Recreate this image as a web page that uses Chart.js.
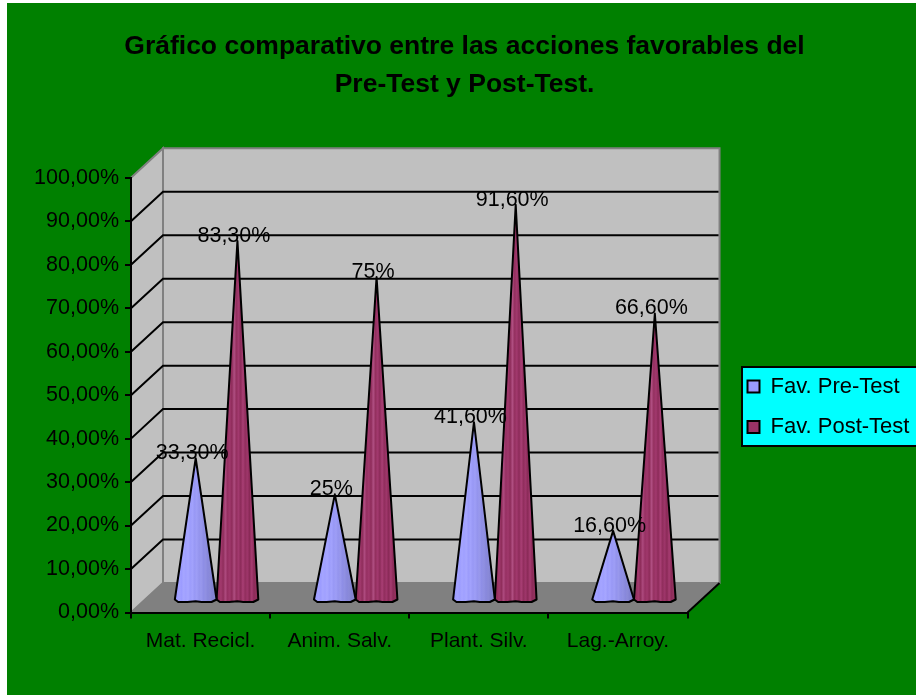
<!DOCTYPE html>
<html><head><meta charset="utf-8">
<style>html,body{margin:0;padding:0;background:#fff}canvas{position:absolute;left:7px;top:3px}</style>
<script src="https://cdn.jsdelivr.net/npm/chart.js@4/dist/chart.umd.js"></script>
</head><body>
<canvas id="c" width="909" height="692"></canvas>
<script>
const categories = ["Mat. Recicl.", "Anim. Salv.", "Plant. Silv.", "Lag.-Arroy."];
const preValues = [33.3, 25, 41.6, 16.6];
const postValues = [83.3, 75, 91.6, 66.6];
const preLabels = ["33,30%", "25%", "41,60%", "16,60%"];
const postLabels = ["83,30%", "75%", "91,60%", "66,60%"];
const seriesNames = ["Fav. Pre-Test", "Fav. Post-Test"];
const titleLines = ["Gráfico comparativo entre las acciones favorables del", "Pre-Test y Post-Test."];
const yTickLabels = ["0,00%","10,00%","20,00%","30,00%","40,00%","50,00%","60,00%","70,00%","80,00%","90,00%","100,00%"];

const FONT = '"Liberation Sans", Arial, sans-serif';
const DX = 32, DY = -29.5;            // depth of the 3D box
const CONE_DX = 16, CONE_DY = -9.5;   // cones stand mid-depth
const LEGEND_LEFT = 722, LEGEND_TOP = 354;
const STRIPES = {
  "#9999FF": ["#9696f8","#9d9dff","#a2a2ff","#9c9cff","#a5a5ff","#a0a0ff","#a6a6ff","#9c9cfb","#a2a2fc","#9898f5","#9e9ef6","#9494ee","#9898ec","#8e8ee6","#9090e2","#8888dc","#8a8ad8","#8282d2","#8484ce","#7e7ec8"],
  "#993366": ["#8a2a58","#96305f","#a23a6e","#8f2d5b","#ad4a7e","#963062","#a0386c","#8e2c5a","#b04f82","#94305f","#a2396e","#8c2b59","#a93f75","#912e5d","#9e366a","#8a2a57","#a63c71","#8c2b59","#94325f","#82264f"]
};

class ConeElement extends Chart.BarElement {
  draw(ctx) {
    const {x, y, base, width} = this.getProps(['x','y','base','width']);
    const o = this.options;
    const cx = x + CONE_DX, tip = y + CONE_DY, b = base + CONE_DY;
    const l = cx - width / 2, r = cx + width / 2;
    ctx.save();
    ctx.beginPath();
    ctx.moveTo(cx, tip);
    ctx.lineTo(r, b - 2.5);
    ctx.lineTo(r - width * .12, b);
    ctx.lineTo(cx + width * .14, b);
    ctx.lineTo(cx, b - .7);
    ctx.lineTo(l + width * .3, b);
    ctx.lineTo(l + width * .08, b);
    ctx.lineTo(l, b - 2.5);
    ctx.closePath();
    const stops = STRIPES[o.backgroundColor] || [o.backgroundColor, o.backgroundColor];
    const g = ctx.createLinearGradient(l, 0, r, 0);
    stops.forEach((c, i) => g.addColorStop(i / (stops.length - 1), c));
    ctx.fillStyle = g;
    ctx.fill();
    ctx.strokeStyle = o.borderColor;
    ctx.lineWidth = o.borderWidth;
    ctx.lineJoin = 'round';
    ctx.stroke();
    ctx.restore();
  }
}
ConeElement.id = 'cone';
ConeElement.defaults = Object.assign({}, Chart.BarElement.defaults);
ConeElement.defaultRoutes = Chart.BarElement.defaultRoutes;
class ConeController extends Chart.BarController {}
ConeController.id = 'cone';
ConeController.defaults = Object.assign({}, Chart.BarController.defaults, {dataElementType: 'cone'});
ConeController.overrides = Chart.BarController.overrides;
Chart.register(ConeElement, ConeController);

const box3d = {
  id: 'box3d',
  afterLayout(chart) {
    const lg = chart.legend;
    const w = lg.width;
    lg.left = LEGEND_LEFT; lg.right = lg.left + w;
    lg.top = LEGEND_TOP; lg.bottom = lg.top + 100; lg.height = 100;
    const t = chart.titleBlock;
    if (t) { t.left += 22; t.right += 22; }
  },
  beforeDraw(chart) {
    const c = chart.ctx, a = chart.chartArea, ys = chart.scales.y;
    c.save();
    c.fillStyle = '#008000';
    c.fillRect(0, 0, chart.width, chart.height);
    const L = a.left, R = a.right, T = a.top, B = a.bottom;
    const poly = (pts, fill, stroke, lw) => {
      c.beginPath();
      pts.forEach((p, i) => i ? c.lineTo(p[0], p[1]) : c.moveTo(p[0], p[1]));
      c.closePath();
      c.fillStyle = fill; c.fill();
      if (stroke) { c.strokeStyle = stroke; c.lineWidth = lw; c.stroke(); }
    };
    poly([[L,T],[L+DX,T+DY],[L+DX,B+DY],[L,B]], '#C0C0C0', '#808080', 2);
    poly([[L+DX,T+DY],[R+DX,T+DY],[R+DX,B+DY],[L+DX,B+DY]], '#C0C0C0', '#808080', 2);
    poly([[L,B],[L+DX,B+DY],[R+DX,B+DY],[R,B]], '#808080', null, 0);
    c.strokeStyle = '#000'; c.lineWidth = 2;
    ys.ticks.forEach(t => {
      if (t.value <= 0 || t.value >= 100) return;
      const py = ys.getPixelForValue(t.value);
      c.beginPath();
      c.moveTo(L, py); c.lineTo(L + DX, py + DY); c.lineTo(R + DX - 1, py + DY);
      c.stroke();
    });
    c.beginPath();
    c.moveTo(R, B); c.lineTo(R + DX, B + DY);
    c.stroke();
    // legend panel
    c.fillStyle = '#00FFFF';
    c.fillRect(735, 364, 175, 79);
    c.strokeStyle = '#000'; c.lineWidth = 2;
    c.strokeRect(735, 364, 175, 79);
    c.restore();
  },
  afterDatasetsDraw(chart) {
    const c = chart.ctx;
    const texts = [preLabels, postLabels];
    c.save();
    c.font = '21.5px ' + FONT;
    c.fillStyle = '#000';
    c.textAlign = 'center';
    c.textBaseline = 'middle';
    chart.data.datasets.forEach((d, i) => {
      chart.getDatasetMeta(i).data.forEach((el, j) => {
        c.fillText(texts[i][j], el.x + CONE_DX - 3.5, el.y + CONE_DY - 5);
      });
    });
    c.restore();
  }
};

new Chart(document.getElementById('c'), {
  type: 'cone',
  data: {
    labels: categories,
    datasets: [
      {label: seriesNames[0], data: preValues, backgroundColor: '#9999FF', borderColor: '#000', borderWidth: 2},
      {label: seriesNames[1], data: postValues, backgroundColor: '#993366', borderColor: '#000', borderWidth: 2}
    ]
  },
  plugins: [box3d],
  options: {
    responsive: false,
    animation: false,
    layout: {padding: {left: 0, right: 38, top: 0, bottom: 0}},
    datasets: {cone: {categoryPercentage: 0.6, barPercentage: 1, clip: false}},
    plugins: {
      tooltip: {enabled: false},
      title: {display: true, text: titleLines, color: '#000',
        font: {family: FONT, size: 26.5, weight: 'bold', lineHeight: 1.43},
        padding: {top: 25, bottom: 74}},
      legend: {display: true, position: 'right', align: 'start',
        labels: {boxWidth: 12, boxHeight: 12, padding: 18.5, color: '#000', font: {family: FONT, size: 22}}}
    },
    scales: {
      x: {
        grid: {drawOnChartArea: false, color: '#000', tickColor: '#000', tickLength: 6, lineWidth: 2},
        border: {color: '#000', width: 2},
        ticks: {color: '#000', padding: 10, maxRotation: 0, autoSkip: false, font: {family: FONT, size: 21}},
        afterFit(s) { s.height = 82.5; }
      },
      y: {
        min: 0, max: 100,
        grid: {drawOnChartArea: false, color: '#000', tickColor: '#000', tickLength: 6, lineWidth: 2},
        border: {color: '#000', width: 2},
        ticks: {stepSize: 10, color: '#000', padding: 6, font: {family: FONT, size: 21.5},
          callback: (v) => yTickLabels[Math.round(v / 10)]},
        afterFit(s) { s.width = 124; }
      }
    }
  }
});
</script>
</body></html>
